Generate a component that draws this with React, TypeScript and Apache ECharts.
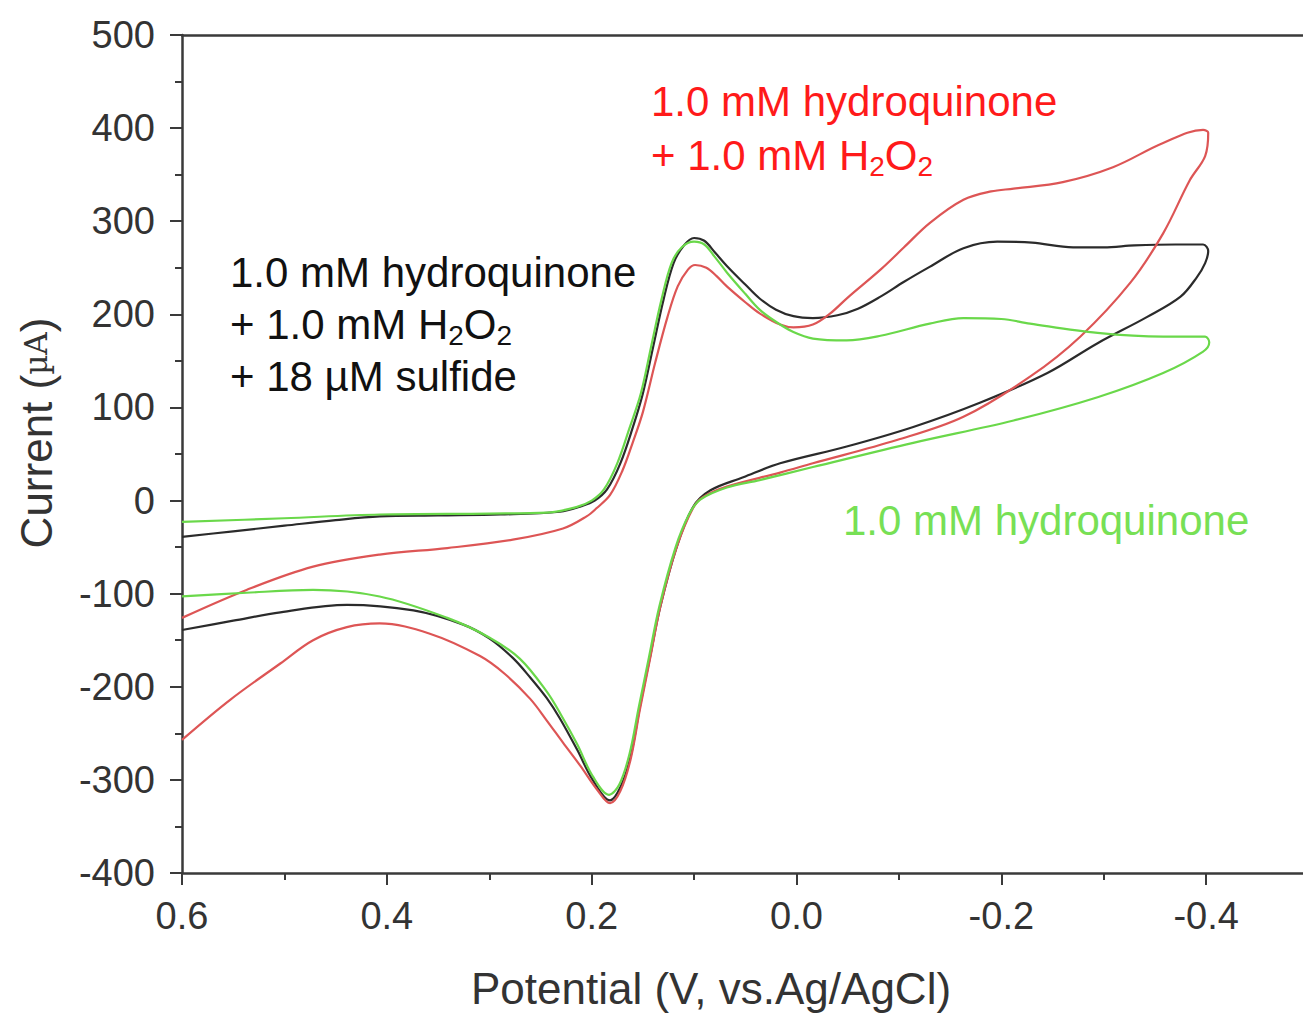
import React, { useEffect, useRef } from "react";
import * as echarts from "echarts";

// Potential (V vs Ag/AgCl), current (µA) — sweep order: upper branch then lower branch
const blackCV: [number, number][] = [
  [0.6, -39], [0.55, -33], [0.5, -27], [0.45, -21], [0.407, -17], [0.35, -16], [0.289, -15], [0.231, -12],
  [0.21, -6], [0.197, 0], [0.185, 12], [0.172, 40], [0.16, 78], [0.15, 115], [0.14, 165], [0.13, 215],
  [0.12, 255], [0.11, 274], [0.1, 282], [0.09, 279], [0.08, 267], [0.068, 252], [0.05, 232], [0.036, 217],
  [0.02, 205], [0.003, 198], [-0.016, 196], [-0.04, 199], [-0.06, 206], [-0.082, 219], [-0.105, 235],
  [-0.13, 251], [-0.163, 271], [-0.196, 278], [-0.23, 277], [-0.27, 272], [-0.3, 272], [-0.33, 274],
  [-0.37, 275], [-0.397, 275], [-0.402, 268],
  [-0.399, 255], [-0.391, 240], [-0.375, 219], [-0.342, 197], [-0.294, 169], [-0.245, 137], [-0.179, 105],
  [-0.114, 79], [-0.049, 58], [0.016, 40], [0.052, 25], [0.084, 11], [0.101, -7], [0.117, -50],
  [0.133, -114], [0.143, -168], [0.153, -222], [0.162, -275], [0.172, -308], [0.182, -322], [0.199, -300],
  [0.214, -268], [0.231, -234], [0.244, -212], [0.26, -190], [0.277, -169], [0.3, -148], [0.326, -133],
  [0.374, -118], [0.439, -112], [0.504, -120], [0.55, -129], [0.6, -139],
];

const greenCV: [number, number][] = [
  [0.6, -23], [0.5, -19], [0.407, -15], [0.3, -14], [0.244, -13], [0.215, -7], [0.2, 0], [0.188, 12],
  [0.175, 40], [0.163, 78], [0.152, 115], [0.142, 165], [0.132, 215], [0.122, 255], [0.112, 272],
  [0.1, 278], [0.09, 275], [0.08, 262], [0.068, 245], [0.05, 222], [0.036, 205], [0.02, 192], [0.003, 181],
  [-0.016, 174], [-0.049, 172], [-0.082, 177], [-0.13, 190], [-0.163, 196], [-0.2, 195], [-0.228, 190],
  [-0.294, 180], [-0.358, 176], [-0.399, 176], [-0.403, 170],
  [-0.397, 160], [-0.358, 137], [-0.294, 111], [-0.212, 86], [-0.114, 62], [-0.016, 36], [0.036, 22],
  [0.068, 14], [0.094, 1], [0.105, -15], [0.118, -50], [0.134, -114], [0.144, -168], [0.154, -222],
  [0.163, -272], [0.173, -305], [0.183, -316], [0.199, -296], [0.214, -262], [0.23, -230], [0.244, -205],
  [0.27, -170], [0.3, -147], [0.341, -126], [0.407, -103], [0.472, -96], [0.537, -99], [0.6, -103],
];

const redCV: [number, number][] = [
  [0.6, -126], [0.537, -96], [0.472, -71], [0.407, -58], [0.341, -51], [0.277, -42], [0.228, -30],
  [0.205, -17], [0.195, -8], [0.182, 6], [0.17, 32], [0.16, 62], [0.15, 95], [0.138, 148], [0.126, 197],
  [0.116, 230], [0.106, 248], [0.099, 253], [0.088, 250], [0.078, 241], [0.068, 230], [0.05, 213],
  [0.036, 201], [0.016, 189], [0.003, 186], [-0.016, 189], [-0.033, 201], [-0.05, 218], [-0.082, 248],
  [-0.105, 272], [-0.13, 298], [-0.163, 323], [-0.19, 332], [-0.212, 335], [-0.26, 342], [-0.309, 358],
  [-0.358, 384], [-0.397, 398], [-0.402, 395],
  [-0.399, 370], [-0.384, 344], [-0.358, 287], [-0.326, 234], [-0.277, 176], [-0.228, 133], [-0.163, 90],
  [-0.098, 65], [-0.016, 40], [0.016, 30], [0.068, 15], [0.091, 4], [0.101, -8], [0.117, -50],
  [0.133, -114], [0.143, -170], [0.153, -225], [0.162, -278], [0.172, -312], [0.182, -325], [0.195, -310],
  [0.211, -285], [0.228, -260], [0.244, -236], [0.26, -213], [0.285, -186], [0.309, -167], [0.358, -143],
  [0.407, -132], [0.439, -136], [0.472, -150], [0.504, -175], [0.553, -214], [0.6, -257],
];

const xTitle = "Potential (V, vs.Ag/AgCl)";
const redLabel = ["1.0 mM hydroquinone", "+ 1.0 mM H{sub|2}O{sub|2}"];
const blackLabel = ["1.0 mM hydroquinone", "+ 1.0 mM H{sub|2}O{sub|2}", "+ 18 µM sulfide"];
const greenLabel = ["1.0 mM hydroquinone"];

const FONT = "'Liberation Sans', Arial, Helvetica, sans-serif";
const AXIS_COLOR = "#3a3a3a";

export default function App() {
  const ref = useRef<HTMLDivElement>(null);

  useEffect(() => {
    if (!ref.current) return;
    const chart = echarts.init(ref.current, undefined, { renderer: "svg" });

    const annText = (lines: string[], x: number, y0: number, step: number, color: string) =>
      lines.map((t, i) => ({
        type: "text",
        x,
        y: y0 + i * step,
        z: 50,
        style: {
          text: "{m|" + t.replace(/\{sub\|2\}/g, "}{sub|2}{m|") + "}",
          fill: color,
          verticalAlign: "middle",
          align: "left",
          rich: {
            m: { fontSize: 42, fontFamily: FONT, color, lineHeight: 50, verticalAlign: "middle" },
            sub: { fontSize: 28, fontFamily: FONT, color, lineHeight: 28, verticalAlign: "bottom" },
          },
        },
      }));

    const series = [
      { name: "black", data: blackCV, color: "#2b2b2b" },
      { name: "red", data: redCV, color: "#dd5555" },
      { name: "green", data: greenCV, color: "#6ad84a" },
    ].map((s) => ({
      type: "line",
      name: s.name,
      data: s.data,
      showSymbol: false,
      smooth: 0.35,
      lineStyle: { width: 2.2, color: s.color },
      itemStyle: { color: s.color },
      xAxisIndex: 0,
      yAxisIndex: 0,
    }));

    chart.setOption({
      animation: false,
      backgroundColor: "#ffffff",
      grid: { left: 182, top: 35, right: 9, bottom: 140, containLabel: false },
      xAxis: [
        {
          type: "value",
          inverse: true,
          min: -0.6,
          max: 0.6,
          interval: 0.2,
          position: "bottom",
          axisLine: { show: true, onZero: false, lineStyle: { color: AXIS_COLOR, width: 2.5 } },
          axisTick: { show: true, length: 12, lineStyle: { color: AXIS_COLOR, width: 2 } },
          minorTick: { show: true, splitNumber: 2, length: 7, lineStyle: { color: AXIS_COLOR, width: 2 } },
          splitLine: { show: false },
          axisLabel: {
            margin: 24,
            fontSize: 38,
            fontFamily: FONT,
            color: "#333",
            formatter: (v: number) => (v < -0.45 ? "" : v.toFixed(1)),
          },
        },
        {
          type: "value",
          inverse: true,
          min: -0.6,
          max: 0.6,
          position: "top",
          axisLine: { show: true, onZero: false, lineStyle: { color: AXIS_COLOR, width: 2.5 } },
          axisTick: { show: false },
          axisLabel: { show: false },
          splitLine: { show: false },
        },
      ],
      yAxis: [
        {
          type: "value",
          min: -400,
          max: 500,
          interval: 100,
          axisLine: { show: true, onZero: false, lineStyle: { color: AXIS_COLOR, width: 2.5 } },
          axisTick: { show: true, length: 12, lineStyle: { color: AXIS_COLOR, width: 2 } },
          minorTick: { show: true, splitNumber: 2, length: 7, lineStyle: { color: AXIS_COLOR, width: 2 } },
          splitLine: { show: false },
          axisLabel: { margin: 27, fontSize: 38, fontFamily: FONT, color: "#333" },
        },
      ],
      series,
      graphic: [
        {
          type: "text",
          x: 711,
          y: 988,
          style: {
            text: xTitle,
            fontSize: 44,
            fontFamily: FONT,
            fill: "#333",
            align: "center",
            verticalAlign: "middle",
          },
        },
        {
          type: "text",
          x: 36,
          y: 433,
          rotation: Math.PI / 2,
          style: {
            text: "{a|Current (}{b|µA}{a|)}",
            fill: "#333",
            align: "center",
            verticalAlign: "middle",
            rich: {
              a: { fontSize: 44, fontFamily: FONT, color: "#333", verticalAlign: "middle" },
              b: { fontSize: 31, fontFamily: "'DejaVu Serif', serif", color: "#333", verticalAlign: "middle" },
            },
          },
        },
        ...annText(redLabel, 651, 101, 54, "#ff1a1a"),
        ...annText(blackLabel, 230, 272, 52, "#111111"),
        ...annText(greenLabel, 843, 520, 52, "#77e055"),
      ],
    });

    return () => chart.dispose();
  }, []);

  return (
    <div
      ref={ref}
      style={{ position: "fixed", left: 0, top: 0, width: 1420, height: 1013, background: "#fff" }}
    />
  );
}
